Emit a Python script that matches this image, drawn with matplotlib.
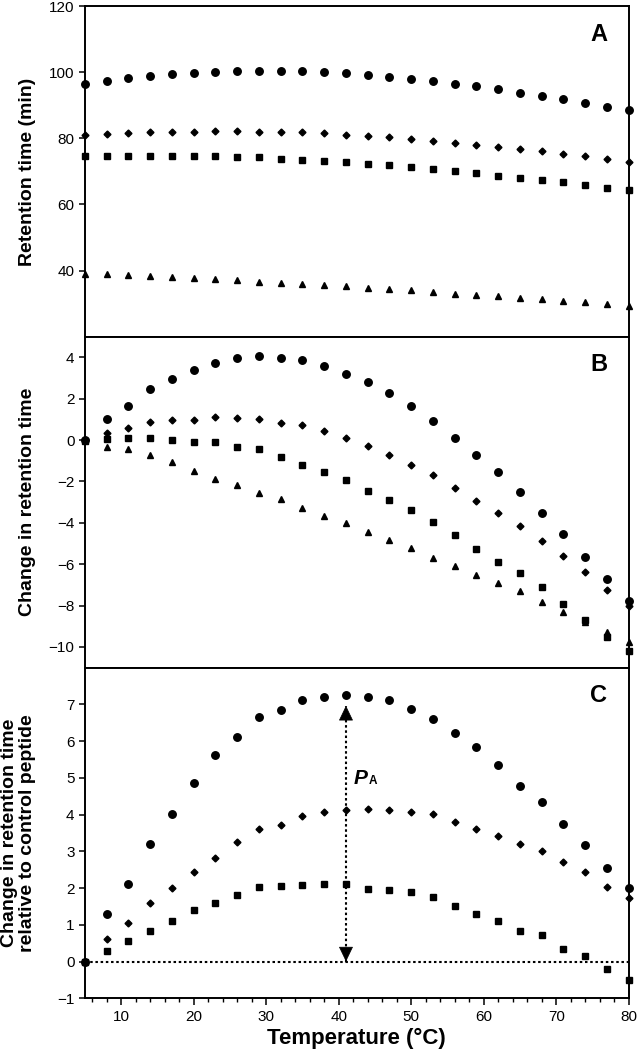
import numpy as np
import matplotlib
matplotlib.use("Agg")
import matplotlib.pyplot as plt
from matplotlib.ticker import MultipleLocator

plt.rcParams['font.family'] = ['Liberation Sans', 'DejaVu Sans']
TICKFONT = ['Liberation Sans Narrow', 'Liberation Sans', 'DejaVu Sans']

# temperature (C), 5..80 every 3 degrees
temps = [5, 8, 11, 14, 17, 20, 23, 26, 29, 32, 35, 38, 41,
         44, 47, 50, 53, 56, 59, 62, 65, 68, 71, 74, 77, 80]

# panel A - retention time (min)
rt_circle = [96.4, 97.4, 98.1, 98.8, 99.3, 99.8, 100.1, 100.3, 100.4, 100.3, 100.2, 100.0, 99.6,
             99.1, 98.6, 98.0, 97.3, 96.5, 95.7, 94.8, 93.8, 92.8, 91.8, 90.7, 89.6, 88.5]
rt_diamond = [81.1, 81.4, 81.6, 81.8, 81.9, 81.9, 82.1, 82.1, 82.0, 81.9, 81.8, 81.5, 81.1,
              80.7, 80.3, 79.8, 79.3, 78.7, 78.0, 77.5, 76.8, 76.1, 75.4, 74.5, 73.6, 72.8]
rt_square = [74.6, 74.7, 74.8, 74.8, 74.7, 74.5, 74.5, 74.3, 74.2, 73.8, 73.4, 73.1, 72.7,
             72.2, 71.8, 71.2, 70.7, 70.0, 69.4, 68.7, 68.1, 67.5, 66.7, 66.0, 65.1, 64.3]
rt_triangle = [39.1, 38.9, 38.7, 38.5, 38.2, 37.8, 37.4, 37.1, 36.7, 36.4, 36.0, 35.6, 35.2,
               34.8, 34.3, 34.0, 33.5, 33.0, 32.6, 32.2, 31.8, 31.3, 30.9, 30.4, 30.0, 29.4]

# panel B - change in retention time
d_circle = [0.0, 1.0, 1.65, 2.45, 2.97, 3.4, 3.74, 3.95, 4.08, 3.98, 3.87, 3.58, 3.21,
            2.79, 2.27, 1.63, 0.92, 0.11, -0.71, -1.56, -2.52, -3.52, -4.55, -5.65, -6.74, -7.77]
d_diamond = [0.0, 0.35, 0.61, 0.9, 0.95, 0.97, 1.11, 1.08, 1.03, 0.82, 0.71, 0.44, 0.08,
             -0.27, -0.74, -1.19, -1.71, -2.31, -2.95, -3.53, -4.15, -4.87, -5.6, -6.39, -7.27, -8.02]
d_square = [-0.05, 0.06, 0.1, 0.08, 0.03, -0.11, -0.11, -0.35, -0.45, -0.84, -1.19, -1.56, -1.95,
            -2.47, -2.9, -3.39, -3.98, -4.61, -5.26, -5.9, -6.45, -7.11, -7.92, -8.72, -9.5, -10.2]
d_triangle = [0.0, -0.32, -0.45, -0.74, -1.06, -1.5, -1.89, -2.16, -2.58, -2.87, -3.27, -3.66, -4.03,
              -4.42, -4.84, -5.23, -5.68, -6.08, -6.52, -6.92, -7.3, -7.84, -8.3, -8.82, -9.26, -9.77]

# panel C - change relative to control peptide
r_circle = [0.0, 1.3, 2.12, 3.2, 4.02, 4.86, 5.62, 6.1, 6.65, 6.85, 7.12, 7.2, 7.26,
            7.19, 7.12, 6.87, 6.61, 6.21, 5.83, 5.36, 4.79, 4.34, 3.75, 3.16, 2.55, 1.99]
r_diamond = [0.0, 0.62, 1.05, 1.6, 1.99, 2.44, 2.81, 3.25, 3.6, 3.71, 3.96, 4.06, 4.11,
             4.14, 4.12, 4.06, 4.01, 3.79, 3.6, 3.42, 3.19, 3.0, 2.71, 2.43, 2.04, 1.72]
r_square = [0.0, 0.3, 0.55, 0.82, 1.09, 1.39, 1.59, 1.82, 2.04, 2.05, 2.08, 2.1, 2.12,
            1.97, 1.96, 1.88, 1.75, 1.52, 1.29, 1.1, 0.83, 0.73, 0.35, 0.14, -0.19, -0.49]

fig, axes = plt.subplots(3, 1, figsize=(6.37, 10.5), dpi=100, sharex=True)
fig.subplots_adjust(left=85/637, right=628.7/637, top=1-6/1050, bottom=1-998.3/1050, hspace=0)

def pts(ax, y, marker, ms):
    ax.plot(temps, y, ls='none', marker=marker, ms=ms, color='k', mec='k',
            clip_on=False, zorder=3)

axA, axB, axC = axes

pts(axA, rt_circle, 'o', 5.4)
pts(axA, rt_diamond, 'D', 3.5)
pts(axA, rt_square, 's', 5.0)
pts(axA, rt_triangle, '^', 4.9)
axA.set_ylim(20, 120)
axA.set_yticks([40, 60, 80, 100, 120])
axA.set_ylabel('Retention time (min)', fontsize=14, fontweight='bold')

pts(axB, d_circle, 'o', 5.4)
pts(axB, d_diamond, 'D', 3.5)
pts(axB, d_square, 's', 5.0)
pts(axB, d_triangle, '^', 4.9)
axB.set_ylim(-11, 5)
axB.set_yticks(np.arange(-10, 5, 2))
axB.set_ylabel('Change in retention time', fontsize=14, fontweight='bold')

pts(axC, r_circle, 'o', 5.4)
pts(axC, r_diamond, 'D', 3.5)
pts(axC, r_square, 's', 5.0)
axC.set_ylim(-1, 8)
axC.set_yticks(np.arange(-1, 8, 1))
axC.set_ylabel('Change in retention time\nrelative to control peptide', fontsize=14,
               fontweight='bold', linespacing=1.1)
axC.axhline(0, color='k', lw=1.5, dashes=(1.2, 1.3), zorder=2)

# P_A: dotted double arrow at the peak of the circle curve
ipk = int(np.argmax(r_circle))
xpk = temps[ipk]
top = r_circle[ipk] - 0.3
axC.plot([xpk, xpk], [0, top], color='k', lw=1.5, dashes=(1.2, 1.3), zorder=2)
head = dict(arrowstyle='-|>,head_length=0.75,head_width=0.36', lw=0.5, color='k',
            shrinkA=0, shrinkB=0, mutation_scale=13)
axC.annotate('', xy=(xpk, top), xytext=(xpk, top - 0.25), arrowprops=head)
axC.annotate('', xy=(xpk, 0), xytext=(xpk, 0.25), arrowprops=head)
axC.text(xpk + 1.0, 4.83, 'P', fontsize=15, fontweight='bold', fontstyle='italic',
         va='baseline', ha='left')
axC.annotate('A', xy=(xpk + 1.0, 4.83), xytext=(11.5, 0), textcoords='offset points',
             fontsize=8.5, fontweight='bold', va='baseline', ha='left')

axC.set_xlim(5, 80)
axC.xaxis.set_major_locator(MultipleLocator(10))
axC.xaxis.set_minor_locator(MultipleLocator(2))
axC.set_xlabel('Temperature (°C)', fontsize=16, fontweight='bold', labelpad=3)

for ax, letter in zip(axes, 'ABC'):
    ax.text(0.945, 0.915, letter, transform=ax.transAxes, fontsize=17,
            fontweight='bold', ha='center', va='center')
    for s in ax.spines.values():
        s.set_linewidth(1.4)
    ax.tick_params(axis='y', direction='out', length=4, width=1.1, labelsize=11)
    ax.yaxis.set_label_coords(-0.09, 0.5)
    for lab in ax.get_yticklabels() + ax.get_xticklabels():
        lab.set_family(TICKFONT)

for ax in (axA, axB):
    ax.tick_params(axis='x', which='both', length=0)
axC.tick_params(axis='x', which='major', direction='out', length=5, width=1.1, labelsize=11)
axC.tick_params(axis='x', which='minor', direction='out', length=3, width=1.0)

fig.savefig('out.png', dpi=100)
